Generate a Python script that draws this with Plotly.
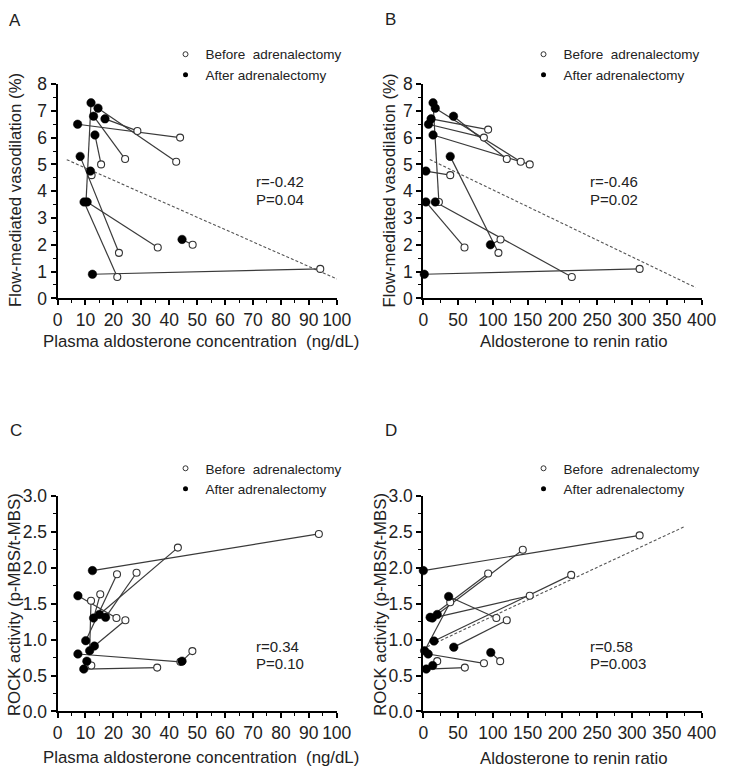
import plotly.graph_objects as go

# ---------------- data (patients P1..P12, before -> after adrenalectomy) ----------------
# Panel A: plasma aldosterone concentration (ng/dL) vs FMD (%)
pac_before_A = [10.2, 21.4, 35.9, 94.1, 22.0, 48.4, 12.2, 15.6, 24.2, 42.5, 43.9, 28.6]
fmd_before_A = [3.6, 0.8, 1.9, 1.1, 1.7, 2.0, 4.6, 5.0, 5.2, 5.1, 6.0, 6.25]
pac_after_A = [12.0, 9.5, 10.6, 12.5, 8.1, 44.6, 11.8, 13.4, 12.9, 14.5, 7.2, 17.0]
fmd_after_A = [7.3, 3.6, 3.6, 0.9, 5.3, 2.2, 4.75, 6.1, 6.8, 7.1, 6.5, 6.7]

# Panel B: aldosterone to renin ratio vs FMD (%)
arr_before_B = [22.4, 213.5, 59.2, 311.0, 108.0, 111.0, 38.7, 153.0, 120.0, 140.0, 87.1, 93.2]
fmd_before_B = [3.6, 0.8, 1.9, 1.1, 1.7, 2.2, 4.6, 5.0, 5.2, 5.1, 6.0, 6.3]
arr_after_B = [14.0, 17.2, 3.7, 1.4, 38.7, 96.5, 3.7, 14.0, 43.4, 17.2, 7.5, 11.2]
fmd_after_B = [7.3, 3.6, 3.6, 0.9, 5.3, 2.0, 4.75, 6.1, 6.8, 7.1, 6.5, 6.7]

# Panel C: plasma aldosterone concentration vs ROCK activity
pac_before_C = [12.1, 21.3, 35.7, 93.6, 21.1, 48.3, 12.0, 15.3, 24.3, 43.1, 44.0, 28.3]
rock_before_C = [0.64, 1.91, 0.61, 2.47, 1.30, 0.84, 1.54, 1.63, 1.27, 2.28, 0.69, 1.93]
pac_after_C = [10.5, 10.1, 9.4, 12.5, 7.3, 44.6, 11.5, 12.9, 13.2, 15.0, 7.3, 17.2]
rock_after_C = [0.70, 0.985, 0.59, 1.96, 1.61, 0.70, 0.845, 1.30, 0.91, 1.35, 0.80, 1.31]

# Panel D: aldosterone to renin ratio vs ROCK activity
arr_before_D = [20.0, 212.6, 59.7, 311.0, 105.0, 110.5, 38.7, 153.0, 120.0, 143.0, 87.2, 93.2]
rock_before_D = [0.70, 1.90, 0.61, 2.45, 1.30, 0.70, 1.52, 1.61, 1.27, 2.25, 0.67, 1.92]
arr_after_D = [13.5, 15.4, 4.2, 0.0, 36.4, 97.0, 1.9, 13.0, 43.8, 20.0, 7.0, 9.8]
rock_after_D = [0.64, 0.98, 0.59, 1.96, 1.60, 0.82, 0.845, 1.30, 0.895, 1.35, 0.80, 1.31]

# regression lines: (intercept, slope, x_start, x_end)
trend_A = (5.33, -0.046, 3.3, 102.5)
trend_B = (5.30, -0.0125, 9.3, 391.6)
trend_D = (0.875, 0.00452, 5.6, 375.0)

stats_A = ["r=-0.42", "P=0.04"]
stats_B = ["r=-0.46", "P=0.02"]
stats_C = ["r=0.34", "P=0.10"]
stats_D = ["r=0.58", "P=0.003"]

legend_labels = ["Before\u00a0 adrenalectomy", "After adrenalectomy"]
xtitle_pac = "Plasma aldosterone concentration \u00a0(ng/dL)"
xtitle_arr = "Aldosterone to renin ratio"
ytitle_fmd = "Flow-mediated vasodilation (%)"
ytitle_rock = "ROCK activity (p-MBS/t-MBS)"

# ---------------- figure ----------------
W, H = 736, 777
FONT = "Liberation Sans, Arial, sans-serif"
TXT = "#222222"


def px(x):
    return x / W


def py(y):
    return 1 - y / H


fig = go.Figure()


def add_panel(n, xb, yb, xa, ya, trend, legend_name):
    xr = "x" if n == 1 else f"x{n}"
    yr = "y" if n == 1 else f"y{n}"
    if trend is not None:
        b0, b1, xs, xe = trend
        fig.add_trace(go.Scatter(x=[xs, xe], y=[b0 + b1 * xs, b0 + b1 * xe], mode="lines",
                                 line=dict(color="#555555", width=1.1, dash="3px,2px"),
                                 xaxis=xr, yaxis=yr, showlegend=False, hoverinfo="skip"))
    lx, ly = [], []
    for i in range(len(xb)):
        lx += [xb[i], xa[i], None]
        ly += [yb[i], ya[i], None]
    fig.add_trace(go.Scatter(x=lx, y=ly, mode="lines", line=dict(color="#3a3a3a", width=1.2),
                             xaxis=xr, yaxis=yr, showlegend=False, hoverinfo="skip"))
    fig.add_trace(go.Scatter(x=xb, y=yb, mode="markers", cliponaxis=False,
                             marker=dict(symbol="circle", size=7, color="white",
                                         line=dict(color="#333333", width=1.1)),
                             xaxis=xr, yaxis=yr, showlegend=False))
    fig.add_trace(go.Scatter(x=xa, y=ya, mode="markers", cliponaxis=False,
                             marker=dict(symbol="circle", size=8.5, color="black",
                                         line=dict(color="black", width=0.5)),
                             xaxis=xr, yaxis=yr, showlegend=False))
    # legend-only entries
    fig.add_trace(go.Scatter(x=[None], y=[None], mode="markers", name=legend_labels[0],
                             marker=dict(symbol="circle", size=5, color="white",
                                         line=dict(color="#333333", width=1)),
                             xaxis=xr, yaxis=yr, legend=legend_name, showlegend=True))
    fig.add_trace(go.Scatter(x=[None], y=[None], mode="markers", name=legend_labels[1],
                             marker=dict(symbol="circle", size=5, color="black"),
                             xaxis=xr, yaxis=yr, legend=legend_name, showlegend=True))


add_panel(1, pac_before_A, fmd_before_A, pac_after_A, fmd_after_A, trend_A, "legend")
add_panel(2, arr_before_B, fmd_before_B, arr_after_B, fmd_after_B, trend_B, "legend2")
add_panel(3, pac_before_C, rock_before_C, pac_after_C, rock_after_C, None, "legend3")
add_panel(4, arr_before_D, rock_before_D, arr_after_D, rock_after_D, trend_D, "legend4")


def axis(domain, rng, dtick, minor, anchor, fmt=None):
    d = dict(domain=domain, range=rng, dtick=dtick, tick0=0, anchor=anchor,
             showline=True, linecolor="black", linewidth=2, ticks="outside", ticklen=5,
             tickwidth=1.5, tickcolor="black", showgrid=False, zeroline=False,
             tickfont=dict(family=FONT, size=17.5, color=TXT), fixedrange=True,
             minor=dict(ticks="outside", ticklen=3, tickwidth=1.2, tickcolor="black",
                        dtick=minor, showgrid=False))
    if fmt:
        d["tickformat"] = fmt
    return d


xl = [px(54), px(341)]
xr_ = [px(430), px(716)]
ytop = [py(296), py(76)]
ybot = [py(720), py(498.7)]

legend_common = dict(xanchor="left", yanchor="top", bgcolor="rgba(0,0,0,0)",
                     font=dict(family=FONT, size=13.5, color=TXT), itemwidth=30,
                     tracegroupgap=0, borderwidth=0)

fig.update_layout(
    width=W, height=H, margin=dict(l=0, r=0, t=0, b=0),
    paper_bgcolor="white", plot_bgcolor="white",
    font=dict(family=FONT, color=TXT),
    xaxis=axis(xl, [0, 100], 10, 5, "y"),
    yaxis=axis(ytop, [0, 8], 1, 0.5, "x"),
    xaxis2=axis(xr_, [0, 400], 50, 25, "y2"),
    yaxis2=axis(ytop, [0, 8], 1, 0.5, "x2"),
    xaxis3=axis(xl, [0, 100], 10, 5, "y3"),
    yaxis3=axis(ybot, [0, 3], 0.5, 0.25, "x3", ".1f"),
    xaxis4=axis(xr_, [0, 400], 50, 25, "y4"),
    yaxis4=axis(ybot, [0, 3], 0.5, 0.25, "x4", ".1f"),
    legend=dict(x=px(165), y=py(29.7), **legend_common),
    legend2=dict(x=px(533), y=py(29.7), **legend_common),
    legend3=dict(x=px(165), y=py(454.7), **legend_common),
    legend4=dict(x=px(533), y=py(454.7), **legend_common),
)

ann = []


def text(x, y, s, size, xanchor="left", angle=0):
    ann.append(dict(x=px(x), y=py(y), xref="paper", yref="paper", text=s, showarrow=False,
                    xanchor=xanchor, yanchor="middle", textangle=angle,
                    font=dict(family=FONT, size=size, color=TXT)))


# panel letters
text(2, 11, "A", 17)
text(389, 10, "B", 17)
text(3, 432, "C", 17)
text(389, 432, "D", 17)
# stats
for (x0, y0), st in [((256, 176), stats_A), ((599, 176), stats_B),
                     ((256, 653), stats_C), ((599, 653), stats_D)]:
    text(x0, y0, st[0], 15)
    text(x0, y0 + 18, st[1], 15)
# axis titles
text(201, 340, xtitle_pac, 16.8, "center")
text(585, 340, xtitle_arr, 16.8, "center")
text(201, 767, xtitle_pac, 16.8, "center")
text(585, 768, xtitle_arr, 16.8, "center")
text(11, 185, ytitle_fmd, 16.8, "center", -90)
text(395, 185, ytitle_fmd, 16.8, "center", -90)
text(10, 610, ytitle_rock, 16.8, "center", -90)
text(386, 610, ytitle_rock, 16.8, "center", -90)

fig.update_layout(annotations=ann)
fig.write_html("out.html", config={"displayModeBar": False},
               post_script="document.body.style.margin='0px';document.body.style.overflow='hidden';")
